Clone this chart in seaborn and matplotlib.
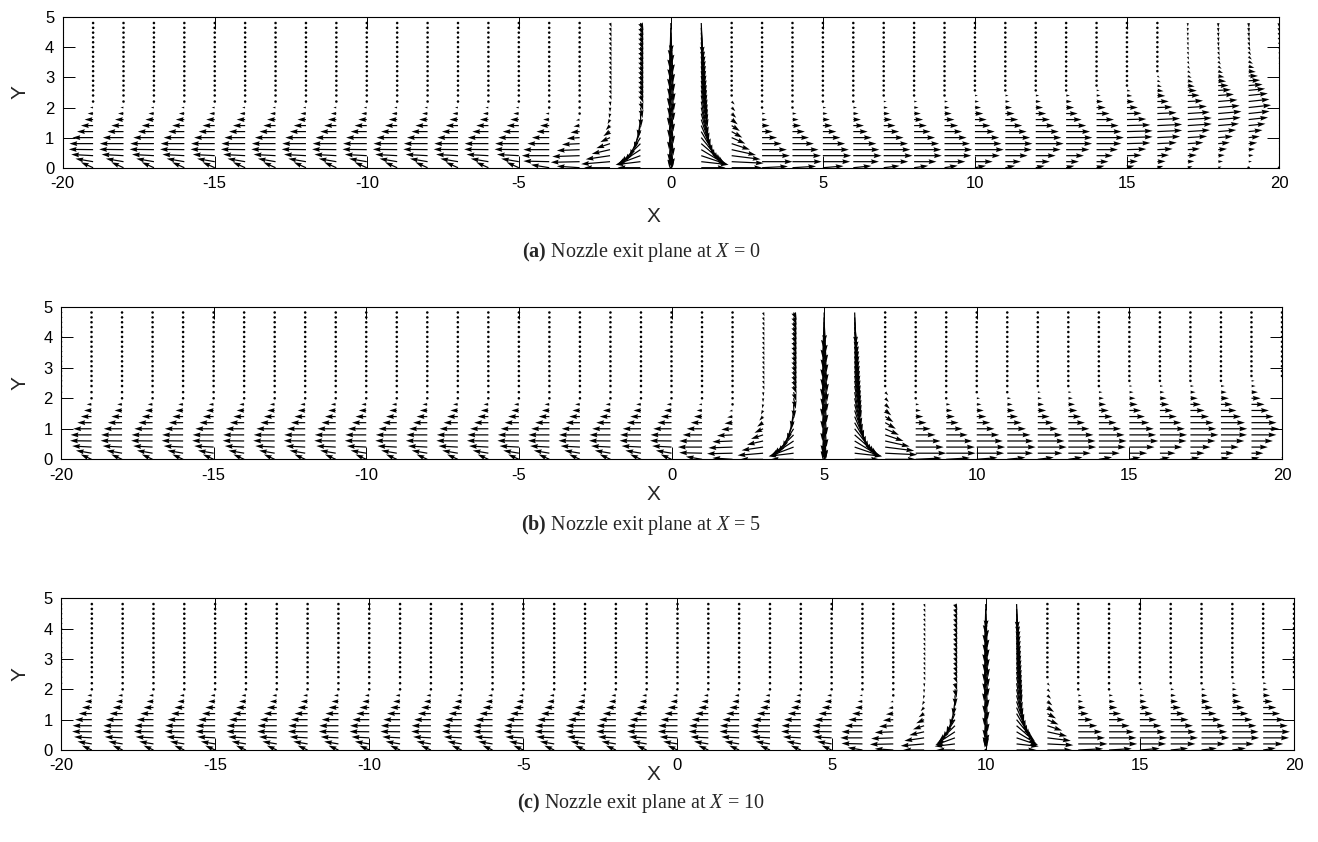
import numpy as np
import seaborn as sns
import matplotlib
matplotlib.use("Agg")
import matplotlib.pyplot as plt

x_cols = np.arange(-20, 21)                       # measurement stations
y_rows = [0.0, 0.2, 0.4, 0.6, 0.8, 1.0, 1.2, 1.4, 1.6, 1.8, 2.0, 2.2,
          2.4, 2.57, 2.73, 2.89, 3.05, 3.21, 3.37, 3.53, 3.69, 3.85,
          4.01, 4.17, 4.33, 4.49, 4.65, 4.81]
nozzle_x = [0, 5, 10]
panel_tags = ["(a)", "(b)", "(c)"]
left_scale = [1.0, 0.88, 0.8]
near_scale = [1.0, 1.0, 0.8]
right_scale = [1.0, 1.0, 0.95]

# reversed wall flow far upstream of the nozzle (rows y = 0 .. 2.2)
left_u = [-0.40, -0.58, -0.72, -0.80, -0.78, -0.68, -0.53, -0.40, -0.28, -0.18, -0.10, -0.05]
left_v = [0.18, 0.10, 0.04, 0.01, 0.0, 0.0, 0.0, 0.0, 0.0, 0.0, 0.0, 0.0]

# stations close to the nozzle, keyed by distance from nozzle (rows y = 0 .. 2.2)
near_u = {
    -4: [-0.60, -0.85, -0.90, -0.85, -0.72, -0.57, -0.42, -0.30, -0.20, -0.12, -0.06, -0.03],
    -3: [-0.75, -0.95, -0.90, -0.75, -0.58, -0.42, -0.30, -0.20, -0.12, -0.07, -0.03, 0.0],
    -2: [-0.85, -0.95, -0.80, -0.60, -0.45, -0.32, -0.22, -0.14, -0.08, -0.03, 0.0, 0.02],
    -1: [-0.75, -0.82, -0.80, -0.75, -0.65, -0.50, -0.35, -0.20, -0.08, 0.02, 0.07, 0.09],
    0: [0.0, 0.05, -0.04, 0.06, -0.05, 0.07, -0.05, 0.08, -0.06, 0.08, -0.06, 0.08],
    1: [0.80, 0.90, 0.88, 0.82, 0.75, 0.65, 0.55, 0.45, 0.37, 0.30, 0.25, 0.22],
    2: [1.00, 1.05, 0.95, 0.80, 0.60, 0.45, 0.35, 0.27, 0.20, 0.15, 0.12, 0.10],
}
near_v = {
    -4: [0.10, 0.02, 0.0, 0.0, 0.0, 0.0, 0.0, 0.0, 0.0, 0.0, 0.0, 0.0],
    -3: [0.05, -0.02, -0.03, -0.03, -0.03, -0.03, -0.03, -0.03, -0.03, -0.03, -0.04, -0.04],
    -2: [0.0, -0.08, -0.12, -0.14, -0.15, -0.15, -0.15, -0.15, -0.15, -0.15, -0.15, -0.15],
    -1: [0.0, -0.10, -0.30, -0.50, -0.65, -0.80, -0.85, -0.80, -0.60, -0.45, -0.35, -0.30],
    0: [-0.05, -0.20, -0.40, -0.60, -0.80, -0.95, -1.0, -1.0, -1.0, -1.0, -1.0, -1.0],
    1: [0.0, -0.10, -0.30, -0.50, -0.65, -0.80, -0.95, -1.05, -1.10, -1.10, -1.10, -1.10],
    2: [0.0, -0.05, -0.12, -0.18, -0.20, -0.20, -0.20, -0.18, -0.16, -0.14, -0.12, -0.10],
}
# upper rows (y = 2.4 .. 4.81) of the near stations
near_top_u = {
    -4: [0.0] * 16,
    -3: [0.02] * 16,
    -2: [0.05] * 16,
    -1: [0.10] * 16,
    0: [-0.07, 0.09, -0.06, 0.10, -0.07, 0.10, -0.06, 0.09, -0.06, 0.08, -0.05, 0.07,
        -0.05, 0.05, -0.03, 0.02],
    1: [0.21, 0.20, 0.19, 0.18, 0.17, 0.16, 0.15, 0.14, 0.13, 0.12, 0.11, 0.10,
        0.09, 0.08, 0.06, 0.04],
    2: [0.03] * 16,
}
near_top_v = {-4: [0.0] * 16, -3: [-0.05] * 16, -2: [-0.14] * 16, -1: [-0.25] * 16,
              0: [-1.0] * 16, 1: [-1.05] * 16, 2: [-0.05] * 16}

# wall jet downstream, stations d = 3 .. 20 from the nozzle
right_peak = [1.00, 1.00, 0.97, 0.95, 0.95, 0.95, 0.95, 0.95, 0.93, 0.92, 0.90, 0.90,
              0.88, 0.85, 0.82, 0.78, 0.74, 0.70]
right_ypk = [0.20, 0.25, 0.30, 0.35, 0.40, 0.45, 0.50, 0.60, 0.70, 0.80, 0.90, 1.00,
             1.10, 1.30, 1.50, 1.75, 2.00, 2.20]
right_wlo = [0.40, 0.40, 0.40, 0.40, 0.40, 0.40, 0.42, 0.45, 0.50, 0.55, 0.60, 0.65,
             0.70, 0.75, 0.80, 0.85, 0.90, 0.95]
right_whi = [0.72, 0.74, 0.76, 0.77, 0.78, 0.78, 0.78, 0.78, 0.76, 0.74, 0.72, 0.70,
             0.70, 0.74, 0.78, 0.80, 0.83, 0.85]
right_tilt = [0.0] * 12 + [0.03, 0.05, 0.07, 0.09, 0.11, 0.12]
right_ent = [0.0] * 12 + [-0.04, -0.08, -0.12, -0.15, -0.17, -0.19]
wall_tilt = [0.05, 0.06, 0.08, 0.10, 0.12, 0.14, 0.16, 0.18, 0.20, 0.22, 0.24, 0.25,
             0.25, 0.25, 0.25, 0.25, 0.25, 0.25]
decay_eta = [0.0, 0.5, 1.0, 1.5, 2.0, 2.5, 3.0, 4.0]
decay_g = [1.0, 0.85, 0.55, 0.30, 0.15, 0.07, 0.03, 0.0]


def station(d, p):
    yy = np.array(y_rows)
    n_low = len(left_u)
    u = np.zeros(len(yy))
    v = np.zeros(len(yy))
    if d <= -5:
        u[:n_low] = np.array(left_u) * left_scale[p]
        v[:n_low] = np.array(left_v) * left_scale[p]
    elif d <= 2:
        s = left_scale[p] if d < -1 else near_scale[p]
        u[:n_low] = np.array(near_u[d]) * s
        v[:n_low] = np.array(near_v[d]) * s
        u[n_low:] = np.array(near_top_u[d]) * s
        v[n_low:] = np.array(near_top_v[d]) * s
    else:
        k = d - 3
        w = np.where(yy < right_ypk[k], right_wlo[k], right_whi[k])
        g = np.interp(np.abs(yy - right_ypk[k]) / w, decay_eta, decay_g)
        u = right_peak[k] * g * right_scale[p]
        v = right_tilt[k] * u + np.where(yy > right_ypk[k], right_ent[k] * (1 - g) ** 3, 0.0)
        v[0] += wall_tilt[k] * u[0]
    return u, v


sns.set_theme(style="ticks")
plt.rcParams["font.family"] = ["Liberation Sans", "DejaVu Sans"]
plt.rcParams["axes.unicode_minus"] = False
plt.rcParams["mathtext.fontset"] = "custom"
plt.rcParams["mathtext.rm"] = "Liberation Serif"
plt.rcParams["mathtext.it"] = "Liberation Serif:italic"
plt.rcParams["mathtext.bf"] = "Liberation Serif:bold"

W, H = 1318, 842
fig = plt.figure(figsize=(W / 100, H / 100), dpi=100)

# pixel boxes (left, top, right, bottom) of the three panels
boxes = [(62.7, 17.3, 1279, 167.7), (61, 306.7, 1282, 459.3), (61, 598.3, 1294, 750)]
xlabel_y = [216.7, 494, 774]
caption_y = [251.7, 525, 803]

for p, (l, t, r, b) in enumerate(boxes):
    ax = fig.add_axes([l / W, 1 - b / H, (r - l) / W, (b - t) / H])
    X, Y = np.meshgrid(x_cols, y_rows, indexing="ij")
    U = np.zeros(X.shape)
    V = np.zeros(X.shape)
    for i, xc in enumerate(x_cols):
        U[i], V[i] = station(int(xc - nozzle_x[p]), p)
    ax.quiver(X, Y, U, V, angles="xy", scale_units="xy", scale=1, pivot="tail",
              color="black", width=0.001, headwidth=4.0, headlength=6.5,
              headaxislength=5.8, minlength=2.3, minshaft=1)
    ax.set_xlim(-20, 20)
    ax.set_ylim(0, 5)
    ax.set_xticks(range(-20, 21, 5))
    ax.set_yticks(range(0, 6))
    ax.tick_params(direction="in", top=True, right=True, length=8.6, width=0.7,
                   labelsize=12, pad=6, colors="black")
    for sp in ax.spines.values():
        sp.set_linewidth(0.8)
        sp.set_color("black")
    ax.set_xlabel("X", fontsize=15)
    ax.set_ylabel("Y", fontsize=15)
    ax.xaxis.set_label_coords((653 - l) / (r - l), -(xlabel_y[p] - b) / (b - t))
    ax.xaxis.label.set_va("center")
    ax.yaxis.set_label_coords(-(l - 20) / (r - l), 0.5)
    ax.yaxis.label.set_va("center")
    fig.text(641 / W, 1 - caption_y[p] / H,
             r"$\mathbf{" + panel_tags[p] + r"}$ Nozzle exit plane at $X$ = " + str(nozzle_x[p]),
             family="Liberation Serif", fontsize=14.5, ha="center", va="center")

fig.savefig("out.png", dpi=100)
